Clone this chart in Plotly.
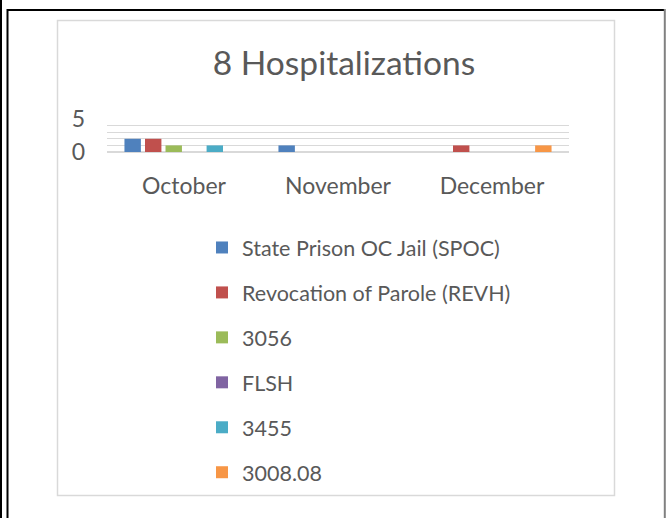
import plotly.graph_objects as go

W, H = 666, 518

months = ["October", "November", "December"]
series_names = ["State Prison OC Jail (SPOC)", "Revocation of Parole (REVH)", "3056", "FLSH", "3455", "3008.08"]
spoc = [2, 1, 0]
revh = [2, 0, 1]
s3056 = [1, 0, 0]
flsh = [0, 0, 0]
s3455 = [1, 0, 0]
s300808 = [0, 0, 1]
series_values = [spoc, revh, s3056, flsh, s3455, s300808]
colors = ["#4F81BD", "#C0504D", "#9BBB59", "#8064A2", "#4BACC6", "#F79646"]

y_ticks = [0, 5]
title_text = "8 Hospitalizations"

FONT = "Lato"
TXT = "#595959"
GRID = "#D9D9D9"

def px(x):
    return x / W

def py(y):
    return 1 - y / H

fig = go.Figure()
for i, (name, vals, c) in enumerate(zip(series_names, series_values, colors)):
    fig.add_trace(go.Bar(
        x=months, y=vals, name=name,
        marker=dict(color=c, line=dict(width=0)),
        legendgroup=f"g{i}",
    ))

shapes = [
    # outer black frame
    dict(type="line", xref="paper", yref="paper", x0=px(1), x1=px(1), y0=py(0), y1=py(H),
         line=dict(color="black", width=2)),
    dict(type="line", xref="paper", yref="paper", x0=px(7.5), x1=px(7.5), y0=py(9), y1=py(H),
         line=dict(color="black", width=2)),
    dict(type="line", xref="paper", yref="paper", x0=px(7), x1=px(665), y0=py(10), y1=py(10),
         line=dict(color="black", width=2)),
    dict(type="line", xref="paper", yref="paper", x0=px(664.8), x1=px(664.8), y0=py(9), y1=py(H),
         line=dict(color="#808080", width=2)),
    # chart area border
    dict(type="rect", xref="paper", yref="paper", x0=px(57.5), x1=px(614.5), y0=py(20.5), y1=py(495.5),
         line=dict(color="#D9D9D9", width=1.5), fillcolor="rgba(0,0,0,0)"),
]

fig.update_layout(
    width=W, height=H,
    margin=dict(l=0, r=0, t=0, b=0, autoexpand=False),
    paper_bgcolor="white", plot_bgcolor="white",
    font=dict(family=FONT, color=TXT),
    title=dict(text=title_text, x=px(344), y=py(63), xanchor="center", yanchor="middle",
               font=dict(family=FONT, size=33.5, color=TXT)),
    barmode="group", bargap=0.2, bargroupgap=0.2,
    shapes=shapes,
    legend=dict(
        x=px(202), y=py(227), xanchor="left", yanchor="top",
        font=dict(family=FONT, size=21.5, color=TXT),
        tracegroupgap=14, bgcolor="rgba(0,0,0,0)",
        traceorder="grouped",
    ),
    xaxis=dict(
        domain=[px(107), px(569)],
        showgrid=False, showline=False, zeroline=False,
        ticks="", tickfont=dict(family=FONT, size=23, color=TXT),
        ticklabelstandoff=18,
    ),
    yaxis=dict(
        domain=[py(152), py(119)],
        range=[0, 5], tickvals=y_ticks,
        showgrid=True, gridcolor=GRID, gridwidth=1,
        zeroline=True, zerolinecolor=GRID, zerolinewidth=1.5,
        showline=False, ticks="",
        tickfont=dict(family=FONT, size=23, color=TXT),
        ticklabelstandoff=21,
        minor=dict(dtick=1, showgrid=True, gridcolor=GRID, gridwidth=1),
    ),
)

fig.write_html("out.html", config={"displayModeBar": False},
               post_script="document.body.style.margin='0';")
